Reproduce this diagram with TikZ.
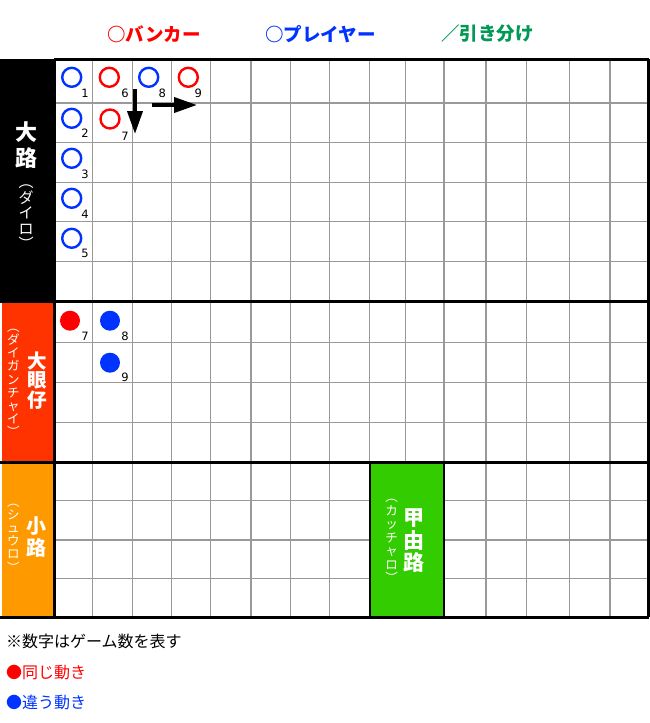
\documentclass[tikz,border=0pt]{standalone}
\usepackage{fontspec}
\setmainfont{Noto Sans CJK JP}
\newfontfamily\numfont{DejaVu Sans}
\usetikzlibrary{arrows.meta}
\definecolor{bred}{HTML}{FF0000}
\definecolor{pblue}{HTML}{0033FF}
\definecolor{tgreen}{HTML}{009955}
\definecolor{eyered}{HTML}{FF3300}
\definecolor{smorange}{HTML}{FF9900}
\definecolor{cgreen}{HTML}{33CC00}
\definecolor{gridgray}{HTML}{999999}
\begin{document}
\begin{tikzpicture}[x=1pt,y=-1pt,
  gridline/.style={draw=gridgray,line width=1.3pt},
  thick line/.style={draw=black,line width=3pt},
  ring/.style={draw=#1,line width=2.4pt,circle,minimum size=19pt,inner sep=0pt},
  dot/.style={fill=#1,circle,minimum size=20pt,inner sep=0pt},
  num/.style={font=\numfont\fontsize{11.5}{12}\selectfont,inner sep=0pt},
  legend/.style={font=\bfseries\fontsize{18.5}{20}\selectfont,text=#1,anchor=west,inner sep=0pt},
  big/.style={font=\bfseries\fontsize{#1}{#1}\selectfont,text=white,align=center,inner sep=0pt},
  small/.style 2 args={font=\fontsize{#1}{#2}\selectfont,text=white,align=center,inner sep=0pt},
  note/.style={font=\fontsize{16}{18}\selectfont,anchor=west,inner sep=0pt},
  bigarrow/.style={line width=3.8pt,-{Triangle[length=23pt,width=15pt]}}
]
\useasboundingbox[fill=white] (0,0) rectangle (650,723);

% legend
\node[legend=bred] (lb) at (107,34) {○バンカー};
\node[legend=pblue] (lp) at (265,34) {○プレイヤー};
\node[legend=tgreen] (lt) at (441,34) {／引き分け};

% grid lines
\foreach \x in {92.7,132.7,171.7,210.7,251,290.7,329.7,369.5,405.5,444,486,526.7,569.3,610}
  \draw[gridline] (\x,59) -- (\x,617);
\foreach \y in {103,142.7,182.7,221.7,261.7,342.7,382.7,422.7,500.7,540,578.3}
  \draw[gridline] (54,\y) -- (649,\y);

% label boxes
\fill[black] (0,59) rectangle (54,301);
\fill[eyered] (2,301) rectangle (54,462);
\fill[smorange] (2,462) rectangle (54,617);
\draw[fill=cgreen,line width=2.5pt] (370,462) rectangle (444,617);

% thick lines
\draw[thick line] (54,59) -- (649,59);
\draw[thick line] (648,59) -- (648,617);
\draw[thick line] (54,59) -- (54,617);
\draw[thick line] (0,301) -- (649,301);
\draw[thick line] (0,462) -- (649,462);
\draw[thick line] (0,617) -- (649,617);

% side labels
\node[big=22] (dl) at (26,145) {大\\[4pt]路};
\node[small={15}{15.5}] (dlk) at (26,217.5) {︵\\ダ\\イ\\ロ\\︶};
\node[big=19.5] (dy) at (37,380.6) {大\\眼\\仔};
\node[small={12.5}{13.2}] (dyk) at (13.3,383) {︵\\ダ\\イ\\ガ\\ン\\チ\\ャ\\イ\\︶};
\node[small={12.5}{13.2}] (slk) at (13.3,538) {︵\\シ\\ュ\\ウ\\ロ\\︶};
\node[big=20] (sl) at (37,537.5) {小\\[2pt]路};
\node[big=21] (cl) at (414,541) {甲\\[1.5pt]由\\[1.5pt]路};
\node[small={12.5}{13.5}] (clk) at (391.7,541) {︵\\カ\\ッ\\チ\\ャ\\ロ\\︶};

% big road rings
\node[ring=pblue] (r1) at (71.7,77.3) {};
\node[ring=bred] (r6) at (109.3,77.3) {};
\node[ring=pblue] (r8) at (148.7,77.3) {};
\node[ring=bred] (r9) at (188.3,77.3) {};
\node[ring=pblue] (r2) at (71.7,118.3) {};
\node[ring=bred] (r7) at (110,119) {};
\node[ring=pblue] (r3) at (71.7,158.3) {};
\node[ring=pblue] (r4) at (71.7,198.3) {};
\node[ring=pblue] (r5) at (71.7,238.3) {};

\node[num] (n1) at (85,93.3) {1};
\node[num] (n2) at (85,133.3) {2};
\node[num] (n3) at (85,174) {3};
\node[num] (n4) at (85,214) {4};
\node[num] (n5) at (85,253) {5};
\node[num] (n6) at (125,93.3) {6};
\node[num] (n7) at (125,136) {7};
\node[num] (n8) at (162.3,93.3) {8};
\node[num] (n9) at (198.3,93.3) {9};

% arrows
\coordinate (a1s) at (135,89);
\coordinate (a1e) at (135,134);
\coordinate (a2s) at (152,105);
\coordinate (a2e) at (197,105);
\draw[bigarrow] (a1s) -- (a1e);
\draw[bigarrow] (a2s) -- (a2e);

% big eye dots
\node[dot=bred] (e7) at (70,320.7) {};
\node[dot=pblue] (e8) at (110,320.7) {};
\node[dot=pblue] (e9) at (110,362.7) {};
\node[num] (m7) at (85,336.7) {7};
\node[num] (m8) at (125,336.7) {8};
\node[num] (m9) at (125,377.3) {9};

% notes
\node[note] (t1) at (6,641.7) {※数字はゲーム数を表す};
\node[note,text=bred] (t2) at (6,672.3) {●同じ動き};
\node[note,text=pblue] (t3) at (6,702.3) {●違う動き};
\end{tikzpicture}
\end{document}
